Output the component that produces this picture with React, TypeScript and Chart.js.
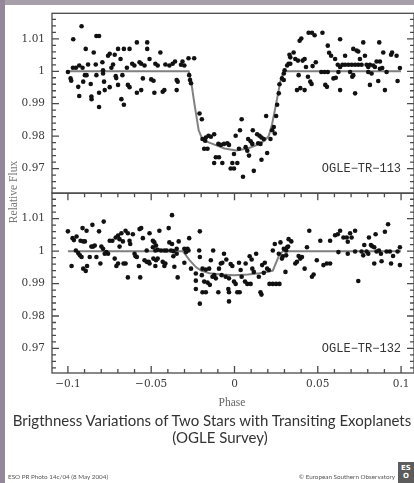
import React, { useEffect, useRef } from "react";
import { Chart, registerables } from "chart.js";

Chart.register(...registerables);

// Axis ranges and ticks
const PHASE_MIN = -0.10955;
const PHASE_MAX = 0.10776;
const FLUX_MIN = 0.96242;
const FLUX_MAX = 1.01788;
const PHASE_TICKS = [-0.1, -0.05, 0, 0.05, 0.1];
const FLUX_TICKS = [0.97, 0.98, 0.99, 1, 1.01];

const PANEL_LABELS = ["OGLE\u2212TR\u2212113", "OGLE\u2212TR\u2212132"];

// OGLE-TR-113 observations [phase, relative flux]
const TR113_OBS: [number, number][] = [
  [-0.1, 0.9998], [-0.0918, 1.0139], [-0.0968, 1.0099], [-0.097, 1.0011], [-0.0952, 1.0011],
  [-0.0984, 0.9978], [-0.098, 0.9971], [-0.0932, 1.0018], [-0.0912, 1.0011], [-0.0938, 0.9952],
  [-0.0932, 0.9924], [-0.0908, 0.9968], [-0.0898, 0.9988], [-0.0888, 0.9988], [-0.0893, 1.0069],
  [-0.0879, 1.0021], [-0.0863, 0.9961], [-0.0859, 0.9922], [-0.0858, 0.9914], [-0.0845, 1.0058],
  [-0.0833, 1.0021], [-0.0829, 1.0109], [-0.0813, 1.0109], [-0.0829, 0.9988], [-0.0813, 0.9934],
  [-0.0813, 0.989], [-0.0793, 1.0028], [-0.0789, 1.0003], [-0.0789, 0.9993], [-0.0783, 0.9968],
  [-0.0779, 0.9942], [-0.0759, 1.0048], [-0.0749, 1.0054], [-0.0749, 0.9951], [-0.0739, 1.0011],
  [-0.0729, 1.0021], [-0.0719, 1.0051], [-0.0713, 0.9985], [-0.071, 0.9979], [-0.0699, 1.0069],
  [-0.0699, 0.9958], [-0.0684, 1.0038], [-0.0679, 0.9914], [-0.0673, 0.9988], [-0.0664, 1.0069],
  [-0.063, 1.0069], [-0.0664, 0.9897], [-0.0646, 1.0011], [-0.064, 0.9958], [-0.063, 0.9951],
  [-0.0614, 1.0023], [-0.0601, 1.0018], [-0.0586, 1.0089], [-0.0586, 0.9934], [-0.057, 1.0028],
  [-0.056, 1.0023], [-0.056, 0.9942], [-0.055, 0.9978], [-0.054, 1.0018], [-0.0524, 1.0089],
  [-0.0524, 1.0069], [-0.051, 1.0038], [-0.05, 0.9975], [-0.0486, 0.9971], [-0.0481, 0.9934],
  [-0.0475, 1.0023], [-0.0461, 1.0018], [-0.0445, 1.0058], [-0.0431, 0.9937], [-0.0421, 0.9942],
  [-0.0415, 1.0021], [-0.0391, 1.0018], [-0.0371, 1.0023], [-0.0357, 1.003], [-0.0341, 0.9968],
  [-0.0347, 0.9942], [-0.0321, 1.002], [-0.0312, 1.003], [-0.0301, 1.0018], [-0.0276, 1.004],
  [-0.0242, 1.004], [-0.0272, 0.9988], [-0.0267, 0.9973], [-0.0261, 0.9963], [-0.0347, 0.9973],
  [-0.021, 0.987], [-0.0196, 0.9852], [-0.0192, 0.9791], [-0.0176, 0.9786], [-0.0172, 0.9796],
  [-0.0156, 0.9801], [-0.0142, 0.9798], [-0.0182, 0.9761], [-0.0162, 0.9761], [-0.0122, 0.9806],
  [-0.0097, 0.9776], [-0.0082, 0.9773], [-0.0112, 0.9735], [-0.0093, 0.9735], [-0.0122, 0.9717],
  [-0.0073, 0.9717], [-0.0063, 0.9776], [-0.0043, 0.9778], [-0.0033, 0.9773], [-0.0023, 0.97],
  [-0.0003, 0.97], [-0.0013, 0.9717], [-0.0003, 0.9745], [0.0007, 0.9801], [0.0017, 0.9717],
  [0.0027, 0.9761], [0.0033, 0.9818], [0.0043, 0.9852], [0.0051, 0.9675], [0.0067, 0.9766],
  [0.0077, 0.9755], [0.0082, 0.9791], [0.0097, 0.9784], [0.0107, 0.9776], [0.0087, 0.974],
  [0.011, 0.9818], [0.0116, 0.9693], [0.0136, 0.9806], [0.015, 0.9801], [0.0162, 0.9796],
  [0.0142, 0.9778], [0.0156, 0.9776], [0.0162, 0.9727], [0.0176, 0.9791], [0.019, 0.9862],
  [0.0196, 0.9748], [0.0216, 0.9791], [0.0226, 0.9818], [0.0236, 0.9828], [0.0242, 0.9808],
  [0.025, 0.9862], [0.0256, 0.9897], [0.0266, 0.9932], [0.027, 0.996], [0.0285, 0.9978],
  [0.0296, 0.9993], [0.0301, 1.0003], [0.0316, 1.0018], [0.0325, 1.0023], [0.0335, 1.0023],
  [0.0335, 1.0043], [0.0296, 0.9973], [0.033, 1.0051], [0.0355, 1.0058], [0.0365, 1.0038],
  [0.0381, 1.0033], [0.0375, 0.9942], [0.0395, 0.9948], [0.0421, 0.9942], [0.0385, 0.9988],
  [0.0391, 1.0094], [0.0401, 1.0101], [0.0409, 1.0033], [0.0421, 1.0038], [0.0429, 1.0013],
  [0.0441, 0.9983], [0.0455, 0.9968], [0.0463, 0.9961], [0.0445, 1.0119], [0.0465, 1.0119],
  [0.0481, 1.0111], [0.0469, 1.0016], [0.0488, 1.0028], [0.0528, 1.0119], [0.0521, 0.9998],
  [0.054, 0.9998], [0.056, 0.9998], [0.0545, 0.9958], [0.0555, 0.9952], [0.056, 1.0079],
  [0.0568, 1.0057], [0.058, 1.0048], [0.0594, 0.9978], [0.0608, 0.998], [0.0604, 1.0038],
  [0.062, 1.002], [0.0634, 1.0013], [0.0648, 1.002], [0.0624, 0.9998], [0.0634, 1.0099],
  [0.0634, 0.9942], [0.0664, 1.0048], [0.0664, 1.002], [0.0684, 1.002], [0.0704, 1.002],
  [0.0724, 1.002], [0.0743, 1.002], [0.0763, 1.002], [0.0694, 0.9998], [0.0707, 0.9983],
  [0.0713, 0.9988], [0.0713, 1.0069], [0.0733, 1.0064], [0.0743, 1.0061], [0.0724, 0.9932],
  [0.0753, 1.0038], [0.0773, 1.0089], [0.0783, 1.0048], [0.0793, 1.002], [0.0803, 1.0013],
  [0.0813, 1.002], [0.0803, 0.9998], [0.0823, 0.9993], [0.0813, 0.9958], [0.0833, 1.0018],
  [0.0843, 1.0013], [0.0853, 1.003], [0.0873, 1.003], [0.0863, 0.997], [0.0869, 1.0089],
  [0.0873, 1.0008], [0.0887, 1.001], [0.0893, 1.0058], [0.0903, 0.9942], [0.0913, 0.9998],
  [0.094, 1.0051], [0.0946, 1.0058], [0.0973, 1.0048], [0.0979, 0.997], [0.0993, 1.001],
];

// OGLE-TR-113 transit model
const TR113_MODEL_PHASE = [-0.1, -0.0275, -0.026, -0.024, -0.0215, -0.0195, -0.017, -0.012, -0.006, 0.001, 0.008, 0.014, 0.018, 0.0205, 0.0225, 0.025, 0.0275, 0.0295, 0.1];
const TR113_MODEL_FLUX = [1, 1, 0.9968, 0.9898, 0.9818, 0.9793, 0.9784, 0.9774, 0.9762, 0.9756, 0.9762, 0.9774, 0.9786, 0.98, 0.9835, 0.99, 0.9968, 1, 1];

// OGLE-TR-132 observations [phase, relative flux]
const TR132_OBS: [number, number][] = [
  [-0.1, 1.0061], [-0.0978, 0.9954], [-0.0972, 1.004], [-0.0964, 1.0034], [-0.0952, 1.0002],
  [-0.0938, 0.9994], [-0.0948, 1.0045], [-0.0928, 0.9987], [-0.0918, 0.9982], [-0.0924, 1.0032],
  [-0.0908, 1.003], [-0.0898, 1.003], [-0.0912, 1.0071], [-0.0908, 0.9946], [-0.0893, 0.9939],
  [-0.0885, 0.9954], [-0.0888, 1.0063], [-0.0869, 0.9982], [-0.0859, 1.0014], [-0.0849, 1.0014],
  [-0.0839, 1.0017], [-0.0853, 1.0081], [-0.0829, 0.9982], [-0.0813, 1.0061], [-0.0805, 0.9962],
  [-0.0799, 1.0014], [-0.0789, 1.0007], [-0.0785, 1.0091], [-0.0779, 0.9992], [-0.0769, 0.9997],
  [-0.0759, 0.9992], [-0.0749, 1.0032], [-0.0733, 1.0032], [-0.0719, 0.9977], [-0.0713, 1.0042],
  [-0.0699, 1.0048], [-0.0709, 0.9954], [-0.0699, 0.9962], [-0.069, 1.0037], [-0.069, 1.0014],
  [-0.0679, 1.0055], [-0.067, 1.003], [-0.0666, 0.9962], [-0.0654, 0.9962], [-0.0654, 1.0063],
  [-0.064, 1.0055], [-0.064, 0.9919], [-0.063, 1.0032], [-0.0626, 1.0022], [-0.061, 1.0052],
  [-0.06, 0.9992], [-0.0594, 0.9984], [-0.0586, 0.9982], [-0.0574, 0.9954], [-0.057, 1.0068],
  [-0.056, 1.0071], [-0.0566, 0.9919], [-0.055, 1.004], [-0.054, 0.9972], [-0.0527, 0.9967],
  [-0.0515, 0.9967], [-0.051, 0.9962], [-0.0527, 1.0002], [-0.051, 1.0055], [-0.049, 1.0032],
  [-0.0481, 1.0027], [-0.0471, 1.0017], [-0.049, 1.0012], [-0.0475, 1.0002], [-0.0461, 1.0004],
  [-0.0487, 0.9977], [-0.0471, 0.9972], [-0.0461, 0.9977], [-0.0475, 0.9954], [-0.0451, 1.0063],
  [-0.0441, 1.0002], [-0.0421, 1.0002], [-0.0407, 1.0002], [-0.0431, 0.9967], [-0.0415, 0.9962],
  [-0.0421, 0.9954], [-0.0395, 1.0071], [-0.0391, 1.0027], [-0.0375, 1.0022], [-0.0381, 1.0002],
  [-0.0367, 1.0], [-0.0375, 1.0111], [-0.0367, 0.9984], [-0.0335, 1.003], [-0.0347, 1.0007],
  [-0.0361, 0.9952], [-0.0341, 0.9919], [-0.0347, 0.9992], [-0.0301, 1.0007], [-0.0282, 1.0007],
  [-0.0291, 0.9997], [-0.0301, 0.9964], [-0.0272, 1.004], [-0.0276, 1.0002], [-0.0261, 0.9946],
  [-0.0232, 0.9931], [-0.0232, 0.9909], [-0.0232, 0.9883], [-0.0212, 1.0002], [-0.0208, 1.0061],
  [-0.0208, 0.9982], [-0.0208, 0.9838], [-0.0196, 0.9926], [-0.0192, 0.9946], [-0.0172, 0.9943],
  [-0.0152, 0.9946], [-0.0192, 0.9873], [-0.0172, 0.9873], [-0.0182, 0.9906], [-0.0162, 0.9903],
  [-0.0148, 0.9896], [-0.0142, 0.9972], [-0.0128, 1.0002], [-0.0132, 0.9921], [-0.0122, 0.9926],
  [-0.0112, 0.9916], [-0.0097, 0.9873], [-0.0093, 0.9946], [-0.0077, 0.9926], [-0.0082, 0.9962],
  [-0.0073, 0.9964], [-0.0063, 0.9992], [-0.0053, 0.9921], [-0.0033, 0.9916], [-0.0049, 0.9974],
  [-0.0037, 0.9883], [-0.0033, 0.9873], [-0.0033, 0.9845], [-0.0023, 0.996], [-0.0013, 0.9954],
  [-0.0003, 0.9906], [0.0007, 0.9899], [0.0017, 0.9873], [0.0031, 0.9873], [0.0027, 0.9964],
  [0.0037, 0.9942], [0.0043, 0.9921], [0.0067, 0.9962], [0.0063, 0.9906], [0.0077, 0.9899],
  [0.0097, 0.9899], [0.0091, 0.9984], [0.0103, 0.9974], [0.0107, 0.9946], [0.0116, 0.9936],
  [0.013, 0.9992], [0.0146, 0.9921], [0.0156, 0.9873], [0.0162, 0.9866], [0.0166, 0.9957],
  [0.0182, 0.9964], [0.0176, 0.9933], [0.0196, 0.9946], [0.0206, 0.9942], [0.021, 0.9899],
  [0.023, 0.9899], [0.025, 0.9899], [0.027, 0.9899], [0.023, 1.0002], [0.0242, 1.0022],
  [0.0266, 0.9992], [0.0276, 1.0027], [0.029, 0.9984], [0.0296, 1.0007], [0.031, 1.0002],
  [0.0322, 1.0014], [0.0306, 0.9936], [0.0325, 1.0037], [0.0341, 1.003], [0.0285, 0.9977],
  [0.031, 0.9987], [0.0316, 1.0012], [0.0365, 0.9962], [0.0375, 0.9967], [0.0395, 0.9977],
  [0.0385, 0.9985], [0.0405, 0.9982], [0.0421, 0.9946], [0.0435, 1.0012], [0.0449, 1.0063],
  [0.0465, 0.9921], [0.0475, 0.9928], [0.0494, 0.9972], [0.0515, 1.0032], [0.0534, 0.9957],
  [0.0554, 0.9962], [0.0574, 0.9962], [0.0574, 1.0032], [0.0604, 1.0049], [0.062, 1.0052],
  [0.0634, 1.0063], [0.0654, 1.0042], [0.0624, 0.9997], [0.068, 0.9992], [0.0674, 1.0042],
  [0.0694, 1.0055], [0.0724, 1.0063], [0.0703, 1.0042], [0.0724, 0.9999], [0.0743, 0.9908],
  [0.0763, 0.9999], [0.0773, 0.9987], [0.0779, 1.0019], [0.0793, 0.9999], [0.0803, 0.9992],
  [0.0807, 1.0042], [0.0819, 1.0019], [0.0827, 1.0015], [0.0839, 1.0012], [0.0847, 1.0052],
  [0.0853, 0.9999], [0.0867, 1.0002], [0.0879, 0.9992], [0.0883, 0.9969], [0.0913, 0.9999],
  [0.0933, 0.9999], [0.0922, 1.0083], [0.094, 0.9962], [0.0952, 0.9985], [0.0979, 0.9999],
  [0.0993, 0.9957], [0.0993, 1.0012], [0.0903, 1.006], [0.068, 1.0029], [0.0839, 0.9962],
];

// OGLE-TR-132 transit model
const TR132_MODEL_PHASE = [-0.1, -0.031, -0.027, -0.023, -0.02, -0.015, -0.008, 0, 0.008, 0.015, 0.02, 0.023, 0.0266, 0.029, 0.1];
const TR132_MODEL_FLUX = [1, 1, 0.9972, 0.995, 0.994, 0.9932, 0.9928, 0.9926, 0.9928, 0.9932, 0.9936, 0.994, 0.9985, 1, 1];

const fmtPhase = (v: number) => {
  const s = String(Math.round(v * 1000) / 1000);
  return s.replace("-", "\u2212");
};

// Stacked flux axes: "yLow" is placed at the bottom, "yHigh" on top.
const framePlugin = {
  id: "panelFrame",
  afterDatasetsDraw(chart: any) {
    const ctx = chart.ctx;
    const xs = chart.scales.x;
    const panels = [
      { s: chart.scales.yHigh, top: false, bottom: false, label: PANEL_LABELS[0] },
      { s: chart.scales.yLow, top: true, bottom: true, label: PANEL_LABELS[1] },
    ];
    ctx.save();
    ctx.strokeStyle = "#4a4a4a";
    ctx.lineWidth = 1.3;
    for (const p of panels) {
      const ys = p.s;
      const L = xs.left;
      const R = xs.right;
      const T = ys.top;
      const B = ys.bottom;
      ctx.strokeRect(L, T, R - L, B - T);
      ctx.beginPath();
      for (let i = 482; i <= 508; i++) {
        const major = i % 5 === 0;
        const y = ys.getPixelForValue(i / 500);
        if (y < T || y > B) continue;
        ctx.moveTo(L, y);
        ctx.lineTo(L + (major ? 7 : 4), y);
        ctx.moveTo(R, y);
        ctx.lineTo(R - (major ? 7 : 4), y);
      }
      for (let i = -10; i <= 10; i++) {
        const major = i % 5 === 0;
        const x = xs.getPixelForValue(i / 100);
        const len = major ? 7 : 4;
        if (p.top) {
          ctx.moveTo(x, T);
          ctx.lineTo(x, T + len);
        }
        if (p.bottom) {
          ctx.moveTo(x, B);
          ctx.lineTo(x, B - len);
        }
      }
      ctx.stroke();
      ctx.fillStyle = "#333";
      ctx.font = '12px "Liberation Mono"';
      ctx.textAlign = "right";
      ctx.textBaseline = "middle";
      ctx.fillText(p.label, xs.getPixelForValue(0.1), ys.getPixelForValue(0.97));
    }
    ctx.restore();
  },
};

const tickFont = { family: '"DejaVu Serif"', size: 10.5 };

function fluxScale() {
  return {
    type: "linear" as const,
    position: "left" as const,
    stack: "flux",
    stackWeight: 1,
    min: FLUX_MIN,
    max: FLUX_MAX,
    afterBuildTicks: (s: any) => {
      s.ticks = FLUX_TICKS.map((v) => ({ value: v }));
    },
    afterFit: (s: any) => {
      s.width = 52;
    },
    grid: { display: false, drawTicks: false },
    border: { display: false },
    ticks: {
      autoSkip: false,
      padding: 7,
      color: "#3a3a3a",
      font: tickFont,
      callback: (v: any) => String(Math.round(Number(v) * 100) / 100),
    },
  };
}

export default function App() {
  const ref = useRef<HTMLCanvasElement | null>(null);

  useEffect(() => {
    if (!ref.current) return;
    const pts = (obs: [number, number][]) => obs.map(([x, y]) => ({ x, y }));
    const model = (xs: number[], ys: number[]) => xs.map((x, i) => ({ x, y: ys[i] }));
    const lineStyle = {
      type: "line" as const,
      borderColor: "#808080",
      borderWidth: 2,
      pointRadius: 0,
      fill: false,
      tension: 0,
      order: 2,
    };
    const dotStyle = {
      type: "scatter" as const,
      backgroundColor: "#111",
      borderWidth: 0,
      pointRadius: 2.3,
      order: 1,
    };
    const chart = new Chart(ref.current, {
      type: "scatter",
      data: {
        datasets: [
          { ...lineStyle, data: model(TR113_MODEL_PHASE, TR113_MODEL_FLUX), xAxisID: "x", yAxisID: "yHigh" } as any,
          { ...dotStyle, data: pts(TR113_OBS), xAxisID: "x", yAxisID: "yHigh" } as any,
          { ...lineStyle, data: model(TR132_MODEL_PHASE, TR132_MODEL_FLUX), xAxisID: "x", yAxisID: "yLow" } as any,
          { ...dotStyle, data: pts(TR132_OBS), xAxisID: "x", yAxisID: "yLow" } as any,
        ],
      },
      options: {
        responsive: false,
        animation: false,
        devicePixelRatio: 1,
        events: [],
        layout: { padding: { left: 0, right: 2, top: 7, bottom: 90 } },
        plugins: { legend: { display: false }, tooltip: { enabled: false }, title: { display: false } },
        scales: {
          x: {
            type: "linear",
            position: "bottom",
            min: PHASE_MIN,
            max: PHASE_MAX,
            afterBuildTicks: (s: any) => {
              s.ticks = PHASE_TICKS.map((v) => ({ value: v }));
            },
            afterFit: (s: any) => {
              s.height = 20;
            },
            grid: { display: false, drawTicks: false },
            border: { display: false },
            ticks: {
              autoSkip: false,
              maxRotation: 0,
              padding: 5,
              color: "#3a3a3a",
              font: tickFont,
              callback: (v: any) => fmtPhase(Number(v)),
            },
          },
          yLow: fluxScale(),
          yHigh: fluxScale(),
        } as any,
      },
      plugins: [framePlugin],
    });
    return () => chart.destroy();
  }, []);

  const abs = (o: any) => ({ position: "absolute" as const, whiteSpace: "nowrap" as const, ...o });

  return (
    <div style={{ position: "fixed", left: 0, top: 0, width: 414, height: 483, overflow: "hidden", background: "#ffffff" }}>
      <canvas ref={ref} width={418} height={483} style={{ position: "absolute", left: 0, top: 0, width: 418, height: 483 }} />
      <div style={abs({ left: 0, top: 0, width: 414, height: 5, background: "#a79fa9" })} />
      <div style={abs({ left: 0, top: 0, width: 5, height: 483, background: "#938799" })} />
      <div style={abs({ left: 13, top: 192, transform: "translate(-50%, -50%) rotate(-90deg)", font: '11.5px "Liberation Serif"', color: "#777" })}>
        Relative Flux
      </div>
      <div style={abs({ left: 232, top: 402, transform: "translate(-50%, -50%)", font: '11.5px "Liberation Serif"', color: "#666" })}>
        Phase
      </div>
      <div style={abs({ left: 212, top: 420, transform: "translate(-50%, -50%)", font: '15px Lato', color: "#333" })}>
        Brigthness Variations of Two Stars with Transiting Exoplanets
      </div>
      <div style={abs({ left: 220, top: 437, transform: "translate(-50%, -50%)", font: '15px Lato', color: "#333" })}>
        (OGLE Survey)
      </div>
      <div style={abs({ left: 8, top: 476, transform: "translateY(-50%)", font: '6.3px Lato', color: "#555" })}>
        ESO PR Photo 14c/04 (8 May 2004)
      </div>
      <div style={abs({ right: 19, top: 476, transform: "translateY(-50%)", font: '6.3px Lato', color: "#555" })}>
        © European Southern Observatory
      </div>
      <div style={abs({ left: 398, top: 462, width: 16, height: 21, background: "#5c5c5c", color: "#fff", font: 'bold 7px "DejaVu Sans"', lineHeight: "8px", textAlign: "center", paddingTop: 2, boxSizing: "border-box" })}>
        ES<br />O
      </div>
    </div>
  );
}
